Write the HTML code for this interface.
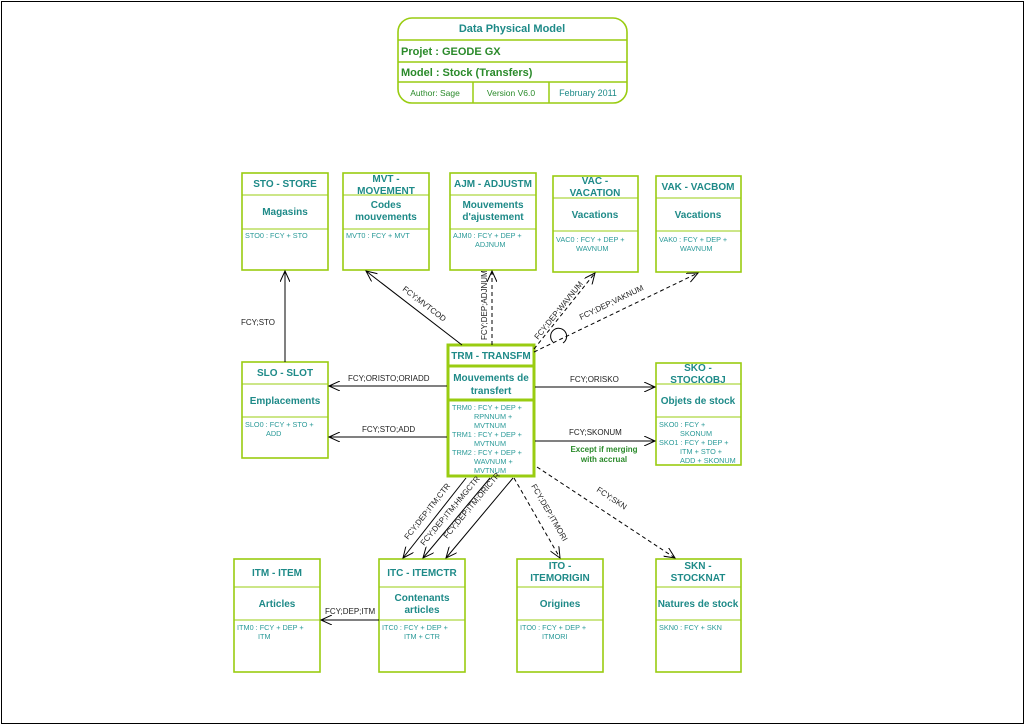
<!DOCTYPE html>
<html><head><meta charset="utf-8"><style>
body{margin:0;background:#fff;}
svg{display:block;font-family:"Liberation Sans",Arial,sans-serif;}
.b{fill:#fff;stroke:#99cc11;stroke-width:1.6}
.h{fill:#1e8a88;font-weight:bold;font-size:10px;text-anchor:middle}
.k{fill:#2a9a98;font-size:7.3px}
.l{fill:#222;font-size:8px}
.s{stroke:#000;stroke-width:1;fill:none}
.d{stroke:#000;stroke-width:1;fill:none;stroke-dasharray:4,3}
</style></head><body>
<svg width="1025" height="725" viewBox="0 0 1025 725">
<rect x="1.5" y="1.5" width="1022" height="722" fill="none" stroke="#000" stroke-width="1"/>
<!-- title -->
<rect x="398" y="18" width="229" height="85" rx="14" class="b"/>
<line x1="398" y1="40" x2="627" y2="40" stroke="#99cc11" stroke-width="1.5"/>
<line x1="398" y1="62" x2="627" y2="62" stroke="#99cc11" stroke-width="1.5"/>
<line x1="398" y1="82" x2="627" y2="82" stroke="#99cc11" stroke-width="1.5"/>
<line x1="473" y1="82" x2="473" y2="103" stroke="#99cc11" stroke-width="1.5"/>
<line x1="549" y1="82" x2="549" y2="103" stroke="#99cc11" stroke-width="1.5"/>
<text x="512" y="32" class="h" style="font-size:11px">Data Physical Model</text>
<text x="401" y="55" style="fill:#2a8a2a;font-weight:bold;font-size:11px">Projet : GEODE GX</text>
<text x="401" y="76" style="fill:#2a8a2a;font-weight:bold;font-size:11px">Model : Stock (Transfers)</text>
<text x="435" y="96" style="fill:#2a8a2a;font-size:8.5px" text-anchor="middle">Author: Sage</text>
<text x="511" y="96" style="fill:#2a8a2a;font-size:8.5px" text-anchor="middle">Version V6.0</text>
<text x="588" y="96" style="fill:#1e8a88;font-size:9px" text-anchor="middle">February 2011</text>

<!-- STO -->
<g><rect x="242" y="173" width="86" height="97" class="b"/><line x1="242" y1="195" x2="328" y2="195" stroke="#99cc11"/><line x1="242" y1="229" x2="328" y2="229" stroke="#99cc11"/>
<text x="285" y="187" class="h">STO - STORE</text><text x="285" y="215" class="h">Magasins</text><text x="245" y="238" class="k">STO0 : FCY + STO</text></g>
<!-- MVT -->
<g><rect x="343" y="173" width="86" height="97" class="b"/><line x1="343" y1="195" x2="429" y2="195" stroke="#99cc11"/><line x1="343" y1="229" x2="429" y2="229" stroke="#99cc11"/>
<text x="386" y="182" class="h">MVT -</text><text x="386" y="194" class="h">MOVEMENT</text><text x="386" y="208" class="h">Codes</text><text x="386" y="220" class="h">mouvements</text><text x="346" y="238" class="k">MVT0 : FCY + MVT</text></g>
<!-- AJM -->
<g><rect x="450" y="173" width="86" height="97" class="b"/><line x1="450" y1="195" x2="536" y2="195" stroke="#99cc11"/><line x1="450" y1="229" x2="536" y2="229" stroke="#99cc11"/>
<text x="493" y="187" class="h">AJM - ADJUSTM</text><text x="493" y="208" class="h">Mouvements</text><text x="493" y="220" class="h">d'ajustement</text><text x="453" y="238" class="k">AJM0 : FCY + DEP +</text><text x="475" y="247" class="k">ADJNUM</text></g>
<!-- VAC -->
<g><rect x="553" y="176" width="85" height="96" class="b"/><line x1="553" y1="198" x2="638" y2="198" stroke="#99cc11"/><line x1="553" y1="231" x2="638" y2="231" stroke="#99cc11"/>
<text x="595" y="184" class="h">VAC -</text><text x="595" y="196" class="h">VACATION</text><text x="595" y="218" class="h">Vacations</text><text x="556" y="242" class="k">VAC0 : FCY + DEP +</text><text x="576" y="251" class="k">WAVNUM</text></g>
<!-- VAK -->
<g><rect x="656" y="176" width="85" height="96" class="b"/><line x1="656" y1="198" x2="741" y2="198" stroke="#99cc11"/><line x1="656" y1="231" x2="741" y2="231" stroke="#99cc11"/>
<text x="698" y="190" class="h">VAK - VACBOM</text><text x="698" y="218" class="h">Vacations</text><text x="659" y="242" class="k">VAK0 : FCY + DEP +</text><text x="680" y="251" class="k">WAVNUM</text></g>
<!-- SLO -->
<g><rect x="242" y="362" width="86" height="96" class="b"/><line x1="242" y1="384" x2="328" y2="384" stroke="#99cc11"/><line x1="242" y1="417" x2="328" y2="417" stroke="#99cc11"/>
<text x="285" y="376" class="h">SLO - SLOT</text><text x="285" y="404" class="h">Emplacements</text><text x="245" y="427" class="k">SLO0 : FCY + STO +</text><text x="266" y="436" class="k">ADD</text></g>
<!-- TRM -->
<g><rect x="448" y="345" width="86" height="131" fill="#fff" stroke="#99cc11" stroke-width="3"/><line x1="448" y1="366" x2="534" y2="366" stroke="#99cc11" stroke-width="3"/><line x1="448" y1="400" x2="534" y2="400" stroke="#99cc11" stroke-width="3"/>
<text x="491" y="359" class="h">TRM - TRANSFM</text><text x="491" y="381" class="h">Mouvements de</text><text x="491" y="394" class="h">transfert</text>
<text x="452" y="410" class="k">TRM0 : FCY + DEP +</text><text x="474" y="419" class="k">RPNNUM +</text><text x="474" y="428" class="k">MVTNUM</text>
<text x="452" y="437" class="k">TRM1 : FCY + DEP +</text><text x="474" y="446" class="k">MVTNUM</text>
<text x="452" y="455" class="k">TRM2 : FCY + DEP +</text><text x="474" y="464" class="k">WAVNUM +</text><text x="474" y="473" class="k">MVTNUM</text></g>
<!-- SKO -->
<g><rect x="656" y="363" width="85" height="102" class="b"/><line x1="656" y1="384" x2="741" y2="384" stroke="#99cc11"/><line x1="656" y1="417" x2="741" y2="417" stroke="#99cc11"/>
<text x="698" y="371" class="h">SKO -</text><text x="698" y="383" class="h">STOCKOBJ</text><text x="698" y="404" class="h">Objets de stock</text>
<text x="659" y="427" class="k">SKO0 : FCY +</text><text x="680" y="436" class="k">SKONUM</text><text x="659" y="445" class="k">SKO1 : FCY + DEP +</text><text x="680" y="454" class="k">ITM + STO +</text><text x="680" y="463" class="k">ADD + SKONUM</text></g>
<!-- ITM -->
<g><rect x="234" y="559" width="86" height="113" class="b"/><line x1="234" y1="587" x2="320" y2="587" stroke="#99cc11"/><line x1="234" y1="620" x2="320" y2="620" stroke="#99cc11"/>
<text x="277" y="576" class="h">ITM - ITEM</text><text x="277" y="607" class="h">Articles</text><text x="237" y="630" class="k">ITM0 : FCY + DEP +</text><text x="258" y="639" class="k">ITM</text></g>
<!-- ITC -->
<g><rect x="379" y="559" width="86" height="113" class="b"/><line x1="379" y1="587" x2="465" y2="587" stroke="#99cc11"/><line x1="379" y1="620" x2="465" y2="620" stroke="#99cc11"/>
<text x="422" y="576" class="h">ITC - ITEMCTR</text><text x="422" y="601" class="h">Contenants</text><text x="422" y="613" class="h">articles</text><text x="382" y="630" class="k">ITC0 : FCY + DEP +</text><text x="404" y="639" class="k">ITM + CTR</text></g>
<!-- ITO -->
<g><rect x="517" y="559" width="86" height="113" class="b"/><line x1="517" y1="587" x2="603" y2="587" stroke="#99cc11"/><line x1="517" y1="620" x2="603" y2="620" stroke="#99cc11"/>
<text x="560" y="569" class="h">ITO -</text><text x="560" y="581" class="h">ITEMORIGIN</text><text x="560" y="607" class="h">Origines</text><text x="520" y="630" class="k">ITO0 : FCY + DEP +</text><text x="542" y="639" class="k">ITMORI</text></g>
<!-- SKN -->
<g><rect x="656" y="559" width="85" height="113" class="b"/><line x1="656" y1="587" x2="741" y2="587" stroke="#99cc11"/><line x1="656" y1="620" x2="741" y2="620" stroke="#99cc11"/>
<text x="698" y="569" class="h">SKN -</text><text x="698" y="581" class="h">STOCKNAT</text><text x="698" y="607" class="h">Natures de stock</text><text x="659" y="630" class="k">SKN0 : FCY + SKN</text></g>

<!-- connectors -->
<defs><marker id="a" markerWidth="12" markerHeight="10" refX="11" refY="5" orient="auto" markerUnits="userSpaceOnUse"><path d="M0,0 L11,5 L0,10" fill="none" stroke="#000" stroke-width="1"/></marker></defs>
<line x1="285" y1="362" x2="285" y2="271" class="s" marker-end="url(#a)"/>
<text x="241" y="325" class="l">FCY;STO</text>
<line x1="462" y1="345" x2="366" y2="271" class="s" marker-end="url(#a)"/>
<text class="l" transform="translate(402,290) rotate(37.6)">FCY;MVTCOD</text>
<line x1="492" y1="345" x2="492" y2="271" class="d" marker-end="url(#a)"/>
<text class="l" transform="translate(487,340) rotate(-90)">FCY;DEP;ADJNUM</text>
<line x1="534" y1="349" x2="595" y2="273" class="d" marker-end="url(#a)"/>
<text class="l" transform="translate(538,340) rotate(-51)">FCY;DEP;WAVNUM</text>
<path d="M553,342 A8,8 0 1 1 563,343" class="s"/>
<line x1="534" y1="352" x2="698" y2="273" class="d" marker-end="url(#a)"/>
<text class="l" transform="translate(581,320) rotate(-25.7)">FCY;DEP;VAKNUM</text>
<line x1="447" y1="386" x2="329" y2="386" class="s" marker-end="url(#a)"/>
<text x="348" y="381" class="l">FCY;ORISTO;ORIADD</text>
<line x1="447" y1="437" x2="329" y2="437" class="s" marker-end="url(#a)"/>
<text x="362" y="432" class="l">FCY;STO;ADD</text>
<line x1="535" y1="387" x2="655" y2="387" class="s" marker-end="url(#a)"/>
<text x="570" y="382" class="l">FCY;ORISKO</text>
<line x1="535" y1="441" x2="655" y2="441" class="s" marker-end="url(#a)"/>
<text x="569" y="435" class="l">FCY;SKONUM</text>
<text x="604" y="452" text-anchor="middle" style="fill:#2a8a2a;font-weight:bold;font-size:8px">Except if merging</text>
<text x="604" y="462" text-anchor="middle" style="fill:#2a8a2a;font-weight:bold;font-size:8px">with accrual</text>
<line x1="466" y1="478" x2="403" y2="558" class="s" marker-end="url(#a)"/>
<text class="l" transform="translate(408,540) rotate(-51.8)">FCY;DEP;ITM;CTR</text>
<line x1="490" y1="478" x2="423" y2="558" class="s" marker-end="url(#a)"/>
<text class="l" transform="translate(424,546) rotate(-50)">FCY;DEP;ITM;HMGCTR</text>
<line x1="513" y1="478" x2="446" y2="558" class="s" marker-end="url(#a)"/>
<text class="l" transform="translate(447,539) rotate(-50)">FCY;DEP;ITM;ORICTR</text>
<line x1="514" y1="478" x2="560" y2="558" class="d" marker-end="url(#a)"/>
<text class="l" transform="translate(531,486) rotate(60)">FCY;DEP;ITMORI</text>
<line x1="537" y1="467" x2="675" y2="558" class="d" marker-end="url(#a)"/>
<text class="l" transform="translate(596,491) rotate(33.4)">FCY;SKN</text>
<line x1="379" y1="620" x2="321" y2="620" class="s" marker-end="url(#a)"/>
<text x="325" y="614" class="l">FCY;DEP;ITM</text>
</svg>
</body></html>
